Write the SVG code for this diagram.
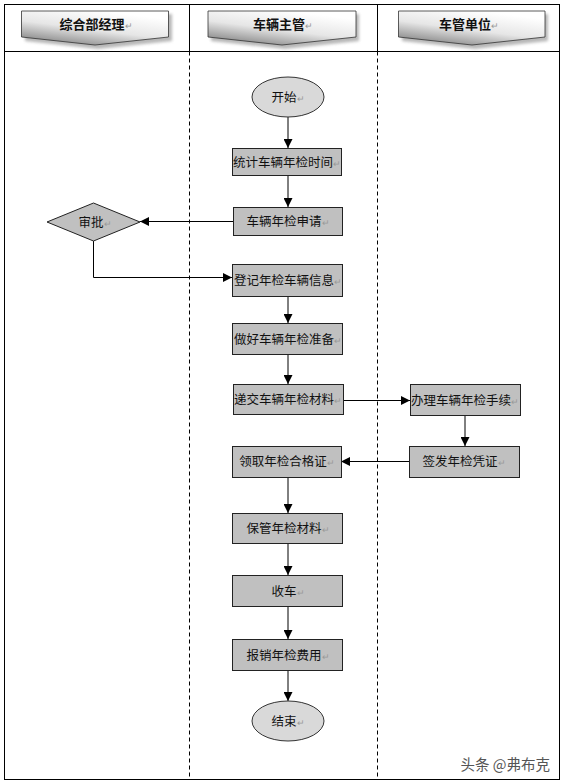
<svg xmlns="http://www.w3.org/2000/svg" width="564" height="784" viewBox="0 0 564 784">
<defs>
  <linearGradient id="hg" x1="0" y1="1" x2="0.55" y2="0">
    <stop offset="0" stop-color="#6e6e6e"/>
    <stop offset="0.55" stop-color="#e6e6e6"/>
    <stop offset="1" stop-color="#ffffff"/>
  </linearGradient>
  <filter id="sh" x="-10%" y="-20%" width="130%" height="160%">
    <feGaussianBlur stdDeviation="1.5"/>
  </filter>
  <marker id="ah" viewBox="0 0 10 10" refX="10" refY="5" markerWidth="9" markerHeight="9" markerUnits="userSpaceOnUse" orient="auto">
    <path d="M0,0 L10,5 L0,10 z" fill="#000"/>
  </marker>
</defs>
<style>
  .box{fill:#c0c0c0;stroke:#222;stroke-width:1}
  .ell{fill:#d9d9d9;stroke:#333;stroke-width:1}
  .t{font-family:"Noto Sans CJK SC","Liberation Sans",sans-serif;font-size:12.5px;fill:#111;text-anchor:middle}
  .h{font-family:"Noto Sans CJK SC","Liberation Sans",sans-serif;font-size:13px;font-weight:bold;fill:#111;text-anchor:middle}
  .p{fill:#999;font-size:9px;font-weight:normal}
  .c{fill:none;stroke:#000;stroke-width:1;marker-end:url(#ah)}
  .lane{stroke:#000;stroke-width:1}
  .dash{stroke:#000;stroke-width:1;stroke-dasharray:4,3}
  .hs{fill:url(#hg);stroke:#333;stroke-width:0.8}
  .hsh{fill:#888;opacity:0.6;filter:url(#sh)}
</style>
<rect x="0" y="0" width="564" height="784" fill="#fff"/>
<rect x="4.5" y="4.5" width="555" height="775" fill="none" stroke="#000" stroke-width="1"/>
<line x1="4.5" y1="51.5" x2="559.5" y2="51.5" class="lane"/>
<line x1="189.5" y1="4.5" x2="189.5" y2="51.5" class="lane"/>
<line x1="377.5" y1="4.5" x2="377.5" y2="51.5" class="lane"/>
<line x1="189.5" y1="51.5" x2="189.5" y2="779.5" class="dash"/>
<line x1="377.5" y1="51.5" x2="377.5" y2="779.5" class="dash"/>

<g id="header1">
  <path class="hsh" d="M25,14 H172 V41 L98,49 L25,41 z"/>
  <path class="hs" d="M21.5,11 H168.5 V37 L95,45 L21.5,37 z"/>
  <text class="h" x="96" y="28.5">综合部经理<tspan class="p">↵</tspan></text>
</g>
<g id="header2">
  <path class="hsh" d="M211,14 H359 V41 L285,49 L211,41 z"/>
  <path class="hs" d="M208,11 H356 V37 L282,45 L208,37 z"/>
  <text class="h" x="283" y="28.5">车辆主管<tspan class="p">↵</tspan></text>
</g>
<g id="header3">
  <path class="hsh" d="M402,14 H548 V41 L475,49 L402,41 z"/>
  <path class="hs" d="M398.5,11 H545 V37 L472,45 L398.5,37 z"/>
  <text class="h" x="469" y="28.5">车管单位<tspan class="p">↵</tspan></text>
</g>

<g id="connectors">
  <line class="c" x1="288" y1="117" x2="288" y2="148"/>
  <line class="c" x1="288" y1="175" x2="288" y2="207"/>
  <line class="c" x1="233" y1="221.5" x2="140" y2="221.5"/>
  <polyline class="c" points="93.5,241 93.5,277.5 232,277.5"/>
  <line class="c" x1="288" y1="297" x2="288" y2="323"/>
  <line class="c" x1="288" y1="354" x2="288" y2="384"/>
  <line class="c" x1="343" y1="400.5" x2="410" y2="400.5"/>
  <line class="c" x1="465" y1="415" x2="465" y2="446"/>
  <line class="c" x1="409" y1="461.5" x2="341" y2="461.5"/>
  <line class="c" x1="288" y1="477" x2="288" y2="513"/>
  <line class="c" x1="288" y1="543" x2="288" y2="575"/>
  <line class="c" x1="288" y1="606" x2="288" y2="639"/>
  <line class="c" x1="288" y1="670" x2="288" y2="701"/>
</g>

<g id="start">
  <ellipse class="ell" cx="288" cy="97" rx="36" ry="20"/>
  <text class="t" x="288" y="101.5">开始<tspan class="p">↵</tspan></text>
</g>
<g id="n1">
  <rect class="box" x="232.5" y="148.5" width="109" height="27"/>
  <text class="t" x="287" y="166.5">统计车辆年检时间<tspan class="p">↵</tspan></text>
</g>
<g id="n2">
  <rect class="box" x="233.5" y="207.5" width="109" height="28"/>
  <text class="t" x="288" y="226">车辆年检申请<tspan class="p">↵</tspan></text>
</g>
<g id="approve">
  <path class="box" d="M47,222 L93.5,203 L140,222 L93.5,241 z"/>
  <text class="t" x="95" y="226.5">审批<tspan class="p">↵</tspan></text>
</g>
<g id="n3">
  <rect class="box" x="232.5" y="264.5" width="110" height="32"/>
  <text class="t" x="288" y="285">登记年检车辆信息<tspan class="p">↵</tspan></text>
</g>
<g id="n4">
  <rect class="box" x="232.5" y="323.5" width="110" height="31"/>
  <text class="t" x="288" y="343.5">做好车辆年检准备<tspan class="p">↵</tspan></text>
</g>
<g id="n5">
  <rect class="box" x="233.5" y="384.5" width="110" height="30"/>
  <text class="t" x="288" y="404">递交车辆年检材料<tspan class="p">↵</tspan></text>
</g>
<g id="n6">
  <rect class="box" x="410.5" y="384.5" width="110" height="31"/>
  <text class="t" x="465" y="404.5">办理车辆年检手续<tspan class="p">↵</tspan></text>
</g>
<g id="n7">
  <rect class="box" x="409.5" y="446.5" width="110" height="31"/>
  <text class="t" x="464" y="466">签发年检凭证<tspan class="p">↵</tspan></text>
</g>
<g id="n8">
  <rect class="box" x="232.5" y="446.5" width="109" height="31"/>
  <text class="t" x="287" y="466">领取年检合格证<tspan class="p">↵</tspan></text>
</g>
<g id="n9">
  <rect class="box" x="232.5" y="513.5" width="110" height="30"/>
  <text class="t" x="288" y="533">保管年检材料<tspan class="p">↵</tspan></text>
</g>
<g id="n10">
  <rect class="box" x="232.5" y="575.5" width="110" height="31"/>
  <text class="t" x="288" y="595.5">收车<tspan class="p">↵</tspan></text>
</g>
<g id="n11">
  <rect class="box" x="232.5" y="639.5" width="110" height="31"/>
  <text class="t" x="288" y="659.5">报销年检费用<tspan class="p">↵</tspan></text>
</g>
<g id="end">
  <ellipse class="ell" cx="288" cy="721" rx="36" ry="20"/>
  <text class="t" x="288" y="725.5">结束<tspan class="p">↵</tspan></text>
</g>
<text x="550" y="770" font-family="'Noto Sans CJK SC',sans-serif" font-size="14.5" fill="#555" text-anchor="end">头条 @弗布克</text>
</svg>
